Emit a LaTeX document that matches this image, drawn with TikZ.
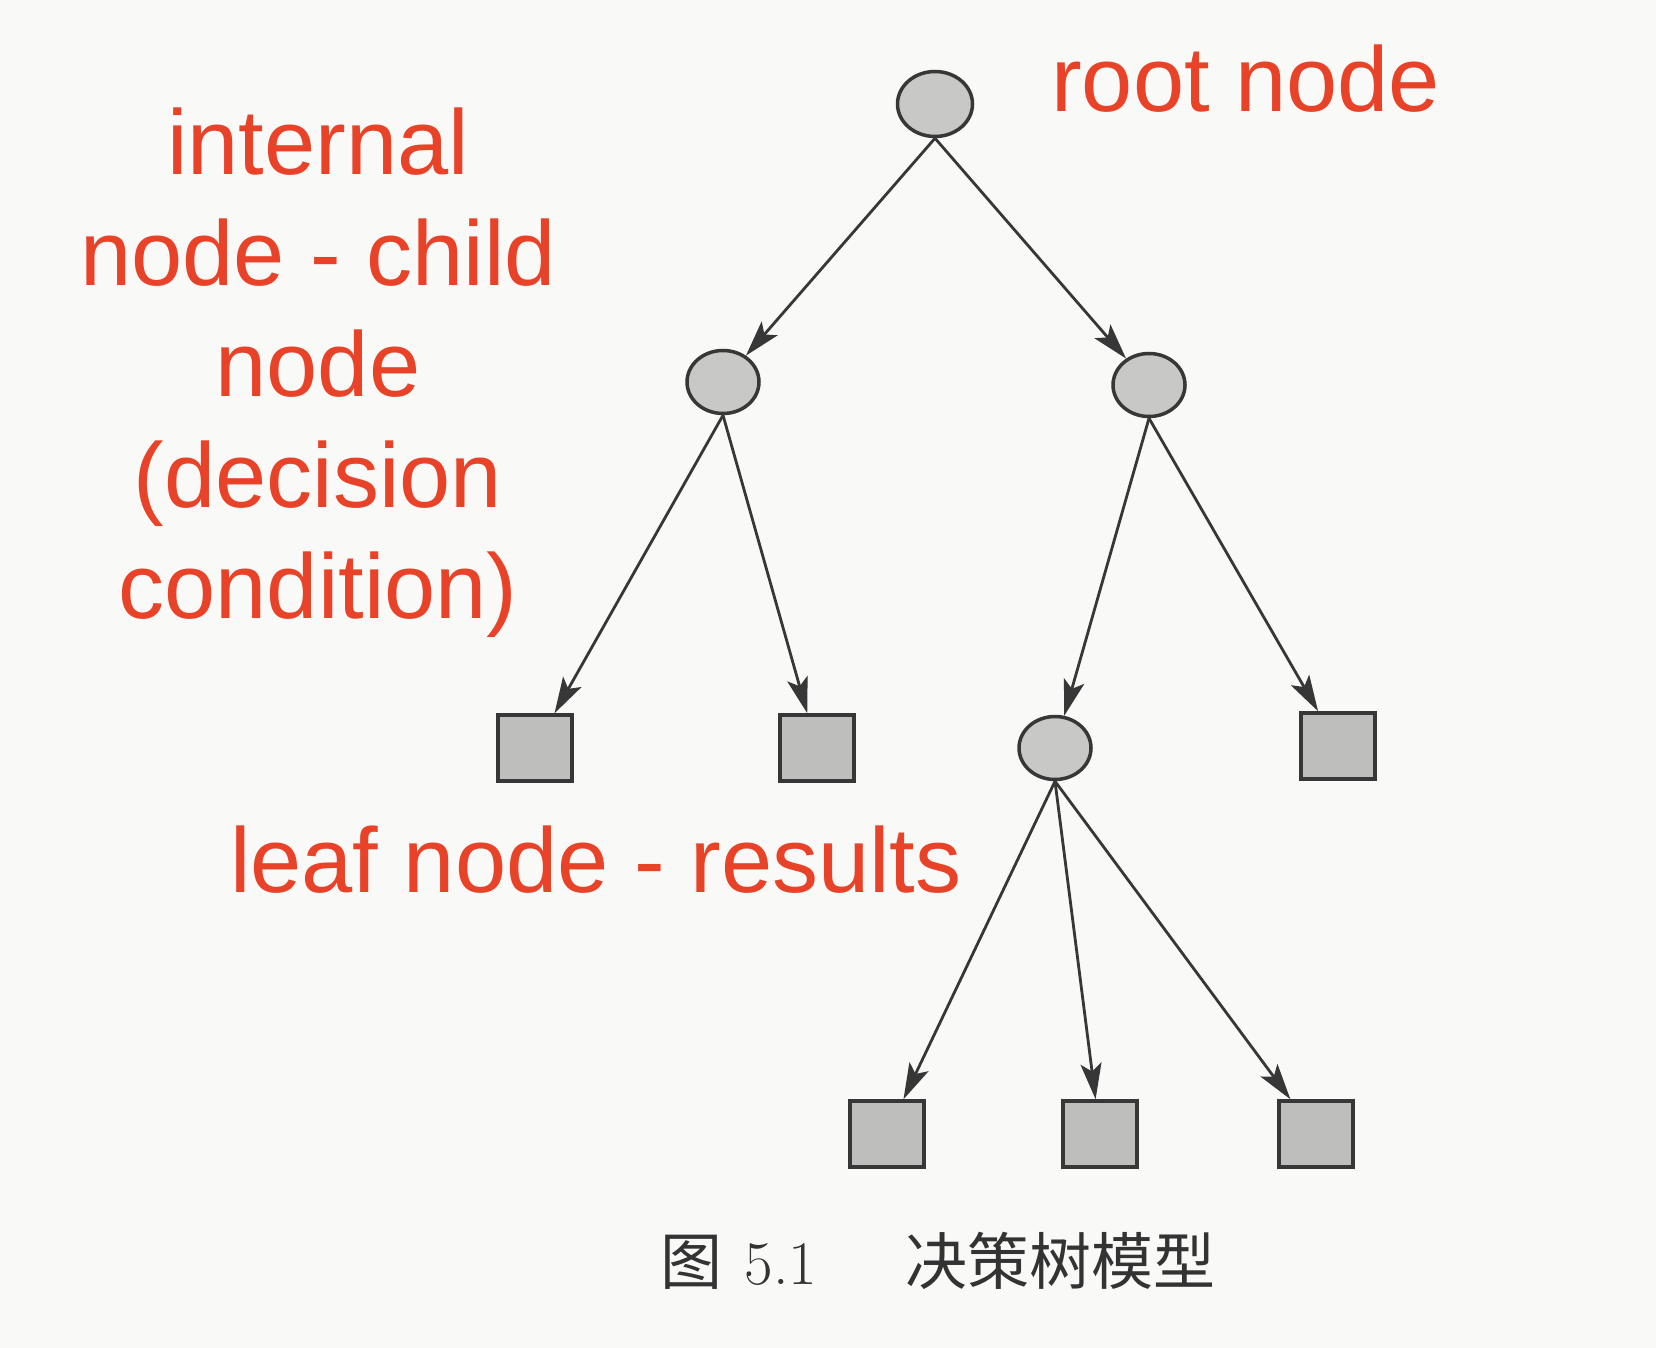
\documentclass[tikz,border=0pt]{standalone}
\usepackage{fontspec}
\setmainfont{Liberation Sans}
\newfontfamily\cjkfont{Noto Sans CJK SC}
\newfontfamily\lmserif{Latin Modern Roman}
\usetikzlibrary{arrows.meta,shapes.geometric}
\definecolor{annot}{RGB}{232,66,40}
\definecolor{paper}{RGB}{249,249,247}
\definecolor{nodefill}{RGB}{200,200,198}
\definecolor{edge}{RGB}{55,55,55}
\tikzset{
  inner/.style={ellipse, draw=edge, line width=3.5pt, fill=nodefill, minimum width=72pt, minimum height=63pt, inner sep=0pt},
  leaf/.style={rectangle, draw=edge, line width=3.5pt, fill=nodefill!95!black, minimum width=74pt, minimum height=66pt, inner sep=0pt},
  conn/.style={draw=edge, line width=2.8pt, -{Stealth[length=36pt,width=21pt,inset=8pt]}},
  note/.style={text=annot, font=\fontsize{92}{111}\selectfont, inner sep=0pt, align=center},
}
\begin{document}
\begin{tikzpicture}[x=1pt,y=-1pt]
\fill[paper] (0,0) rectangle (1656,1348);
\useasboundingbox (0,0) rectangle (1656,1348);
% nodes
\node[inner, minimum width=75pt, minimum height=65pt] (root) at (935,104) {};
\node[inner] (L) at (723,382) {};
\node[inner] (R) at (1149,385) {};
\node[leaf] (LL) at (535,748) {};
\node[leaf] (LR) at (817,748) {};
\node[inner] (M) at (1055,748) {};
\node[leaf] (RR) at (1338,746) {};
\node[leaf] (B1) at (887,1134) {};
\node[leaf] (B2) at (1100,1134) {};
\node[leaf] (B3) at (1316,1134) {};
% connectors
\draw[conn] (root.south) -- (L);
\draw[conn] (root.south) -- (R);
\draw[conn] (L.south) -- (LL);
\draw[conn] (L.south) -- (LR);
\draw[conn] (R.south) -- (M);
\draw[conn] (R.south) -- (RR);
\draw[conn] (M.south) -- (B1);
\draw[conn] (M.south) -- (B2);
\draw[conn] (M.south) -- (B3);
% annotations
\node[note, anchor=base west] (rootlbl) at (1051,112) {root node};
\node[note, anchor=base] (intlbl) at (318,618) {internal\\node - child\\node\\(decision\\condition)};
\node[note, anchor=base west] (leaflbl) at (230,892) {leaf node - results};
% caption
\node[anchor=base, inner sep=0pt, text=black!80] (cap) at (938,1284)
  {\fontsize{62}{70}\selectfont\cjkfont 图\hspace{22pt}\lmserif 5.1\hspace{88pt}\cjkfont 决策树模型};
\end{tikzpicture}
\end{document}
